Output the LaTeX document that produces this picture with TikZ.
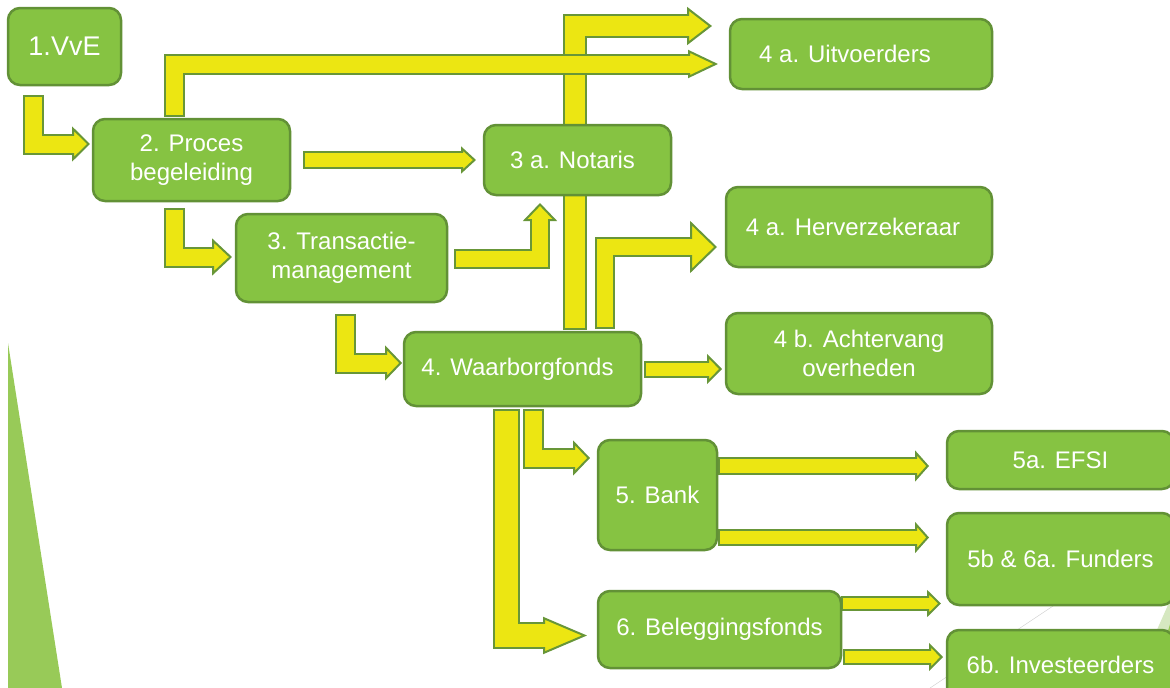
\documentclass[tikz,border=0pt]{standalone}
\usepackage{fontspec}
\setmainfont{Liberation Sans}
\usetikzlibrary{arrows.meta,calc}

\definecolor{boxfill}{RGB}{134,195,66}
\definecolor{boxedge}{RGB}{98,145,54}
\definecolor{arrowfill}{RGB}{236,230,18}
\definecolor{arrowedge}{RGB}{104,150,56}
\definecolor{decogreen}{RGB}{152,202,88}
\definecolor{decolight}{RGB}{214,232,193}
\definecolor{decoline}{RGB}{205,205,205}

\pgfdeclarelayer{deco}
\pgfdeclarelayer{arrows}
\pgfsetlayers{deco,arrows,main}

\tikzset{
	box/.style={draw=boxedge, fill=boxfill, line width=2.5pt, rounded corners=12pt, text=white, align=center, inner sep=0pt, outer sep=0pt, font=\fontsize{24}{29}\selectfont},
}

% shaft width, head width, head length, path
\newcommand{\blockarrow}[4]{%
	\draw[arrowedge, line width=#1pt+4pt, shorten <=-2pt, -{Triangle[length=#3pt, width=#2pt, fill=arrowfill, line width=2pt]}] #4;
	\draw[arrowfill, line width=#1pt, shorten >=#3pt-4pt] #4;
}

\begin{document}
\begin{tikzpicture}[x=1pt,y=-1pt]
	\useasboundingbox (0,0) rectangle (1170,688);
	\clip (0,0) rectangle (1170,688);

	\node[box, minimum width=113pt, minimum height=77pt, font=\fontsize{27}{32}\selectfont] (vve) at (64.5,46.5) {1.VvE};
	\node[box, minimum width=197pt, minimum height=82pt] (proces) at (191.5,160) {2. Proces\\begeleiding};
	\node[box, minimum width=211pt, minimum height=88pt] (transactie) at (341.5,258) {3. Transactie-\\management};
	\node[box, minimum width=187pt, minimum height=70pt] (notaris) at (577.5,160) {3 a. Notaris\hspace*{10pt}};
	\node[box, minimum width=262pt, minimum height=70pt] (uitvoerders) at (861,54) {4 a. Uitvoerders\hspace*{32pt}};
	\node[box, minimum width=266pt, minimum height=80pt] (herverzekeraar) at (859,227) {4 a. Herverzekeraar\hspace*{12pt}};
	\node[box, minimum width=237pt, minimum height=74pt] (waarborg) at (522.5,369) {4. Waarborgfonds\hspace*{10pt}};
	\node[box, minimum width=266pt, minimum height=81pt] (achtervang) at (859,353.5) {4 b. Achtervang\\overheden};
	\node[box, minimum width=119pt, minimum height=110pt] (bank) at (657.5,495) {5. Bank};
	\node[box, minimum width=227pt, minimum height=58pt] (efsi) at (1060.5,460) {5a. EFSI};
	\node[box, minimum width=227pt, minimum height=92pt] (funders) at (1060.5,559) {5b \& 6a. Funders};
	\node[box, minimum width=243pt, minimum height=77pt] (beleggingsfonds) at (719.5,629.5) {6. Beleggingsfonds};
	\node[box, minimum width=227pt, minimum height=70pt] (investeerders) at (1060.5,665) {6b. Investeerders};

	\begin{pgfonlayer}{arrows}
	% runs behind Notaris
	\blockarrow{20}{38}{25}{($(waarborg.north)+(52.5,-4)$) |- ($(uitvoerders.west)+(-18,-28)$)}
	\blockarrow{17}{28}{30}{($(proces.north)+(-17,-4)$) |- ($(uitvoerders.west)+(-12,10)$)}
	\blockarrow{17}{35}{18}{($(vve.south)+(-31,12)$) |- ($(proces.west)+(-3,-16)$)}
	\blockarrow{14}{27}{15}{($(proces.east)+(15,0)$) -- ($(notaris.west)+(-8,0)$)}
	\blockarrow{17}{37}{20}{($(proces.south)+(-17,9)$) |- ($(transactie.west)+(-4,-1)$)}
	\blockarrow{16}{34}{18}{($(transactie.east)+(9,1)$) -| ($(notaris.south)+(-37.5,8)$)}
	\blockarrow{17}{35}{17}{($(transactie.south)+(4,14)$) |- ($(waarborg.west)+(-2,-6)$)}
	\blockarrow{16}{52}{27}{($(waarborg.north)+(82.5,-5)$) |- ($(herverzekeraar.west)+(-9,20)$)}
	\blockarrow{13}{30}{15}{($(waarborg.east)+(5,0)$) -- ($(achtervang.west)+(-4,15.5)$)}
	\blockarrow{17}{35}{17}{($(waarborg.south)+(11,5)$) |- ($(bank.west)+(-8,-37)$)}
	\blockarrow{23}{37}{44}{($(waarborg.south)+(-16,5)$) |- ($(beleggingsfonds.west)+(-11,6)$)}
	\blockarrow{14}{31}{14}{($(bank.east)+(3,-29)$) -- ($(efsi.west)+(-18,6)$)}
	\blockarrow{13}{31}{14}{($(bank.east)+(3,42.5)$) -- ($(funders.west)+(-18,-21.5)$)}
	\blockarrow{11}{27}{14}{($(beleggingsfonds.east)+(2,-26)$) -- ($(funders.west)+(-6,44.5)$)}
	\blockarrow{12}{28}{14}{($(beleggingsfonds.east)+(4,27.5)$) -- ($(investeerders.west)+(-4,-8)$)}
	\end{pgfonlayer}

	\begin{pgfonlayer}{deco}
	\fill[decogreen] (8,343) -- (8,688) -- (62,688) -- cycle;
	\draw[decoline] (930,688) -- (1170,528);
	\fill[decolight] (1131,688) -- (1172,596) -- (1172,688) -- cycle;
	\fill[decogreen] (1150,688) -- (1172,618) -- (1172,688) -- cycle;
	\end{pgfonlayer}
\end{tikzpicture}
\end{document}
